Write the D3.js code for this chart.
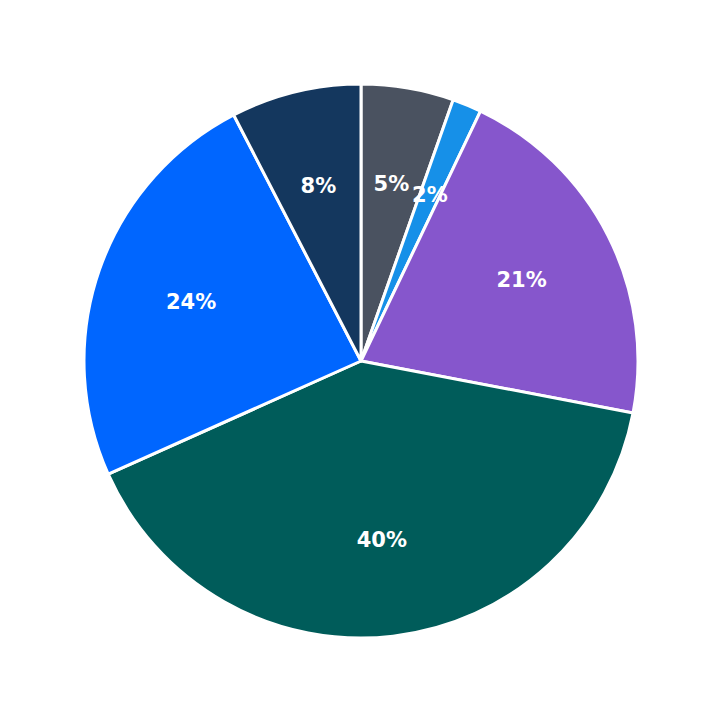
<!DOCTYPE html>
<html><head><script src="https://cdn.jsdelivr.net/npm/d3@7"></script>
<style>body{margin:0;background:#fff}</style></head>
<body><svg id="c" width="723" height="723"></svg>
<script>
const categories = ["A","B","C","D","E","F"];
const values = [5.4, 1.7, 20.9, 40.3, 24.1, 7.6];
const colors = ["#4a5260","#1690e8","#8656cc","#005c5a","#0066ff","#14375e"];
const svg = d3.select("#c");
const g = svg.append("g").attr("transform","translate(361,361)");
const pie = d3.pie().sort(null).value(d=>d)(values);
const arc = d3.arc().innerRadius(0).outerRadius(277);
const lab = d3.arc().innerRadius(180).outerRadius(180);
g.selectAll("path").data(pie).join("path").attr("d",arc)
 .attr("fill",(d,i)=>colors[i]).attr("stroke","#fff").attr("stroke-width",3).attr("stroke-linejoin","round");
g.selectAll("text").data(pie).join("text").attr("transform",d=>`translate(${lab.centroid(d)})`)
 .attr("text-anchor","middle").attr("dy","0.35em").attr("fill","#fff")
 .attr("font-family","DejaVu Sans").attr("font-weight","bold").attr("font-size",21)
 .text(d=>Math.round(d.data)+"%");
</script></body></html>
